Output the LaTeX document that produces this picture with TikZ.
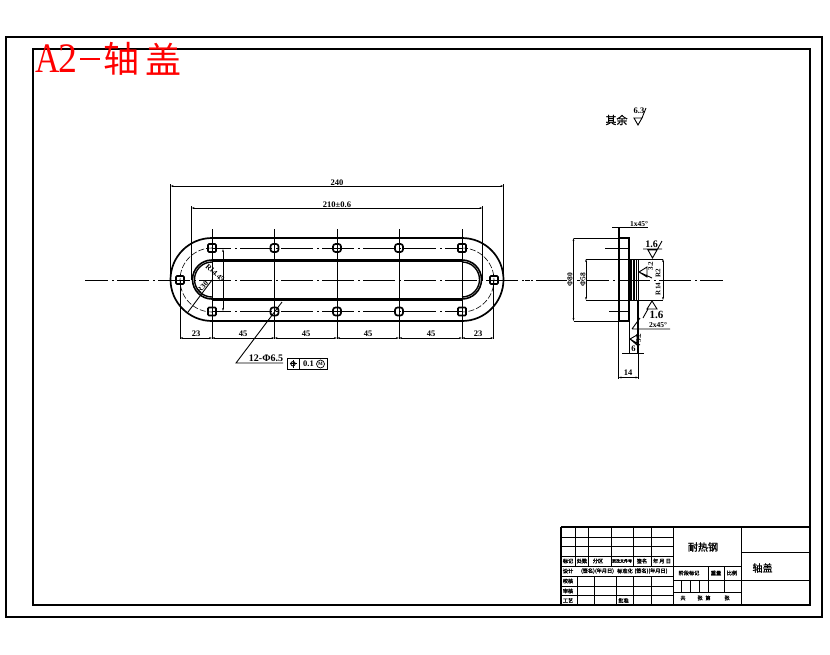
\documentclass[tikz,border=0pt]{standalone}
\usepackage{fontspec}
\setmainfont{Liberation Serif}
\newcommand\dimf{\rmfamily\bfseries}
\newfontfamily\cjk{Noto Sans CJK SC}
\newfontfamily\cjkb[FakeBold=1.5]{Noto Sans CJK SC}
\usetikzlibrary{arrows.meta}
\definecolor{redtitle}{RGB}{255,0,0}
\tikzset{
 thin line/.style={line width=0.9pt,black},
 frame line/.style={line width=2pt,black},
 thick line/.style={line width=3pt,black},
 center line/.style={line width=0.9pt,dash pattern=on 32pt off 4pt on 1.5pt off 3.5pt},
 dim/.style={line width=0.9pt,{Stealth[length=3pt,width=1.8pt]}-{Stealth[length=3pt,width=1.8pt]}},
 dimtxt/.style={font=\dimf\fontsize{8.5}{8.5}\selectfont,inner sep=0pt},
 smalltxt/.style={font=\dimf\fontsize{7.5}{7.5}\selectfont,inner sep=0pt},
 rottxt/.style={font=\dimf\fontsize{7}{7}\selectfont,inner sep=0pt,rotate=90},
 cjktxt/.style={font=\cjkb\fontsize{5.2}{5.2}\selectfont,inner sep=0pt},
 cell/.style={line width=0.9pt},
 hole/.style={line width=1.7pt},
}
\begin{document}
\begin{tikzpicture}[x=1pt,y=-1pt]
\useasboundingbox (0,0) rectangle (830,654);
\fill[white] (0,0) rectangle (830,654);
% frames
\draw[frame line] (6,37) rectangle (822,617);
\draw[frame line] (33,49) rectangle (810,605);
% red title
\node[text=redtitle,font=\fontsize{42}{42}\selectfont,inner sep=0pt,xscale=0.8] (ta) at (47.5,59) {A};
\node[text=redtitle,font=\fontsize{42}{42}\selectfont,inner sep=0pt,xscale=0.9] (tt) at (68,59) {2};
\draw[redtitle,line width=1.5pt] (80,59) -- (100,59);
\node[text=redtitle,font=\cjk\fontsize{36}{36}\selectfont,inner sep=0pt] (tb) at (121,59) {轴};
\node[text=redtitle,font=\cjk\fontsize{36}{36}\selectfont,inner sep=0pt] (tc) at (163,59) {盖};
% rest roughness
\node[font=\cjkb\fontsize{11}{11}\selectfont,inner sep=0pt] (qy) at (616.5,120) {其余};
\node[font=\dimf\fontsize{8.5}{8.5}\selectfont,inner sep=0pt] (r63) at (639,110.5) {6.3};
\draw[thin line] (634,118) -- (638,125) -- (642,118) -- cycle (642,118) -- (646,108);
% centre lines
\draw[center line,dash phase=9pt] (85,280) -- (530,280);
\draw[center line,dash phase=13pt] (212,248) -- (462,248);
\draw[center line,dash phase=13pt] (212,311.5) -- (462,311.5);
\draw[line width=0.6pt,dash pattern=on 6pt off 2pt] (212,248) arc[start angle=90,end angle=270,radius=32pt];
\draw[line width=0.6pt,dash pattern=on 6pt off 2pt] (462,248) arc[start angle=90,end angle=-90,radius=32pt];
% outer outline
\draw[line width=1.7pt] (212,238) -- (462,238) arc[start angle=90,end angle=-90,radius=41.5pt] -- (212,321) arc[start angle=270,end angle=90,radius=41.5pt] -- cycle;
% inner slot
\draw[thick line] (212,260) -- (462,260) (212,299) -- (462,299);
\draw[line width=1.6pt] (212,260) arc[start angle=90,end angle=270,radius=19.5pt];
\draw[line width=1.6pt] (462,260) arc[start angle=90,end angle=-90,radius=19.5pt];
\draw[line width=1.4pt] (212,262) arc[start angle=90,end angle=270,radius=17.5pt];
\draw[line width=1.4pt] (462,262) arc[start angle=90,end angle=-90,radius=17.5pt];
% holes
\foreach \x/\y in {212/248,462/248,212/311.5,462/311.5,180/280,494/280}
 \draw[hole,rounded corners=1pt] (\x-4,\y-4) rectangle (\x+4,\y+4);
\foreach \x in {274.5,337,399}
 \foreach \y in {248,311.5}
 \draw[hole,rounded corners=2.5pt] (\x-4,\y-4) rectangle (\x+4,\y+4);
% extension lines
\foreach \x in {212,274.5,337,399,462}
 \draw[thin line] (\x,229) -- (\x,339);
\draw[thin line] (180,280) -- (180,339);
\draw[thin line] (493.5,280) -- (493.5,339);
\draw[thin line] (170.5,184) -- (170.5,280);
\draw[thin line] (503.5,184) -- (503.5,280);
\draw[thin line] (191.5,206) -- (191.5,280);
\draw[thin line] (482.5,206) -- (482.5,280);
% dims
\draw[dim] (170.5,186) -- (503.5,186);
\node[dimtxt] (d240) at (337,182.5) {240};
\draw[dim] (191.5,208) -- (482.5,208);
\node[dimtxt] (d210) at (337,204.5) {210±0.6};
\draw[dim] (180,338) -- (212,338);
\draw[dim] (212,338) -- (274.5,338);
\draw[dim] (274.5,338) -- (337,338);
\draw[dim] (337,338) -- (399,338);
\draw[dim] (399,338) -- (462,338);
\draw[dim] (462,338) -- (493.5,338);
\node[dimtxt] (a1) at (196,334) {23};
\node[dimtxt] (a2) at (243,334) {45};
\node[dimtxt] (a3) at (306,334) {45};
\node[dimtxt] (a4) at (368,334) {45};
\node[dimtxt] (a5) at (431,334) {45};
\node[dimtxt] (a6) at (478,334) {23};
\draw[dim] (223,249) -- (223,311);
\node[smalltxt,rotate=-42] (r14) at (215,273) {R14.45};
\node[smalltxt,rotate=45] (r30) at (202.5,287) {R30};
\draw[thin line] (188,312) -- (212,280);
% leader
\draw[thin line] (283,363) -- (236,363) -- (282,302);
\node[font=\dimf\fontsize{10}{10}\selectfont,inner sep=0pt] (hl) at (266,358) {12-Φ6.5};
\draw[thin line] (287,358) rectangle (327,369.5);
\draw[thin line] (299,358) -- (299,369.5);
\draw[thin line] (293,360) -- (293,367.5) (289.5,363.75) -- (296.5,363.75);
\draw[thin line] (293,363.75) circle (2.2pt);
\node[dimtxt] (tol) at (308.5,364) {0.1};
\draw[line width=0.7pt] (320.5,364) circle (4pt);
\node[font=\dimf\fontsize{5}{5}\selectfont,inner sep=0pt] (mm) at (320.5,364) {M};
% right view
\draw[center line,dash phase=30pt] (525,280) -- (723,280);
\draw[line width=1.5pt] (619,238) rectangle (629,321);
\draw[line width=2.6pt] (619,228) -- (619,321);
\draw[thin line] (630,259) rectangle (638.5,300);
\foreach \x in {631.5,634,636.5,638.5}
 \draw[line width=1.1pt] (\x,259) -- (\x,300);
\draw[thin line] (573.5,238) -- (619,238) (573.5,321) -- (619,321);
\draw[dim] (573.5,238) -- (573.5,321);
\draw[thin line] (586,259) -- (663,259) (586,300) -- (663,300);
\draw[dim] (586,259) -- (586,300);
\draw[dim] (663,259) -- (663,300);
\node[rottxt,font=\dimf\fontsize{7.5}{7.5}\selectfont,fill=white] (p80) at (570,280) {Φ80};
\node[rottxt,font=\dimf\fontsize{7.5}{7.5}\selectfont,fill=white] (p58) at (583,280) {Φ58};
\draw[thin line] (605,248) -- (629,248) (609,311) -- (629,311);
% chamfer label
\draw[thin line] (612,227) -- (648,227);
\node[smalltxt] (c1) at (639,224.5) {1x45°};
% 14 and 6
\draw[thin line] (618.5,321) -- (618.5,379) (638.5,300) -- (638.5,379);
\draw[dim] (618.5,377.5) -- (638.5,377.5);
\node[dimtxt] (d14) at (628,372.5) {14};
\draw[thin line] (629,321) -- (629,353) (637,300) -- (637,353);
\draw[thin line] (622,353) -- (644,353);
\node[dimtxt] (d6) at (633.5,348.5) {6};
\draw[thin line] (632,329) -- (670,329) (632,329) -- (640,318);
\node[smalltxt] (c2) at (658,325.5) {2x45°};
% finish marks
\node[font=\dimf\fontsize{10}{10}\selectfont,inner sep=0pt] (f1) at (651.5,244) {1.6};
\draw[thin line] (643,249) -- (662,249) (648,250) -- (652.5,258) -- (657,250) -- cycle (657,250) -- (662,241);
\node[font=\dimf\fontsize{11}{11}\selectfont,inner sep=0pt] (f2) at (656.5,314.5) {1.6};
\draw[thin line] (647,309) -- (652,301) -- (657,309) -- cycle (643,318) -- (648,309);
\draw[thin line] (647,267) -- (639,272) -- (647,277) -- cycle (639,272) -- (652,278);
\node[rottxt] (f3) at (650.5,266) {3.2};
\node[rottxt] (f4) at (658,273) {R2};
\node[rottxt] (f5) at (658,289) {R14};
\draw[thin line] (637,335) -- (630,339) -- (637,345) -- cycle (630,339) -- (640,345);
\node[rottxt] (f6) at (638.5,338) {3.2};
% title block
\draw[frame line] (561,527) -- (810,527);
\draw[frame line] (561,527) -- (561,605);
\draw[cell] (561,537) -- (673,537) (561,546.5) -- (673,546.5) (561,556) -- (673,556);
\draw[cell] (561,566) -- (741.5,566) (561,576) -- (673,576) (561,586) -- (673,586) (561,595.5) -- (673,595.5);
\draw[cell] (673,580) -- (810,580) (673,592.5) -- (741.5,592.5) (741.5,552.5) -- (810,552.5);
\draw[line width=1pt] (673,527) -- (673,605);
\draw[line width=1pt] (741.5,527) -- (741.5,605);
\foreach \x in {575.5,588.5,611,633,651}
 \draw[cell] (\x,527) -- (\x,566);
\foreach \x in {577.5,594,616.5,633,651}
 \draw[cell] (\x,576) -- (\x,605);
\draw[cell] (708,566) -- (708,592.5) (724,566) -- (724,592.5);
\foreach \x in {681.5,690.5,699.5}
 \draw[cell] (\x,580) -- (\x,592.5);
\node[cjktxt] (b1) at (568,561) {标记};
\node[cjktxt] (b2) at (582,561) {处数};
\node[cjktxt] (b3) at (598,561) {分区};
\node[font=\cjkb\fontsize{4}{4}\selectfont,inner sep=0pt] (b4) at (622,561) {更改文件号};
\node[cjktxt] (b5) at (642,561) {签名};
\node[cjktxt] (b6) at (662,561) {年 月 日};
\node[cjktxt] (b7) at (568,571) {设计};
\node[cjktxt] (b8) at (597.5,571) {(签名)(年月日)};
\node[cjktxt] (b9) at (625,571) {标准化};
\node[cjktxt] (b10) at (651,571) {(签名)(年月日)};
\node[cjktxt] (b11) at (568,581) {校核};
\node[cjktxt] (b12) at (568,591) {审核};
\node[cjktxt] (b13) at (568,600.5) {工艺};
\node[cjktxt] (b14) at (623.5,600.5) {批准};
\node[cjktxt] (b15) at (689,573) {阶段标记};
\node[cjktxt] (b16) at (716,573) {重量};
\node[cjktxt] (b17) at (732,573) {比例};
\node[cjktxt] (b18) at (683,598) {共};
\node[cjktxt] (b19) at (700,598) {张};
\node[cjktxt] (b20) at (708,598) {第};
\node[cjktxt] (b21) at (727,598) {张};
\node[font=\cjkb\fontsize{10}{10}\selectfont,inner sep=0pt] (mat) at (703,547) {耐热钢};
\node[font=\cjkb\fontsize{10}{10}\selectfont,inner sep=0pt] (nm) at (762.5,568) {轴盖};
\end{tikzpicture}
\end{document}
